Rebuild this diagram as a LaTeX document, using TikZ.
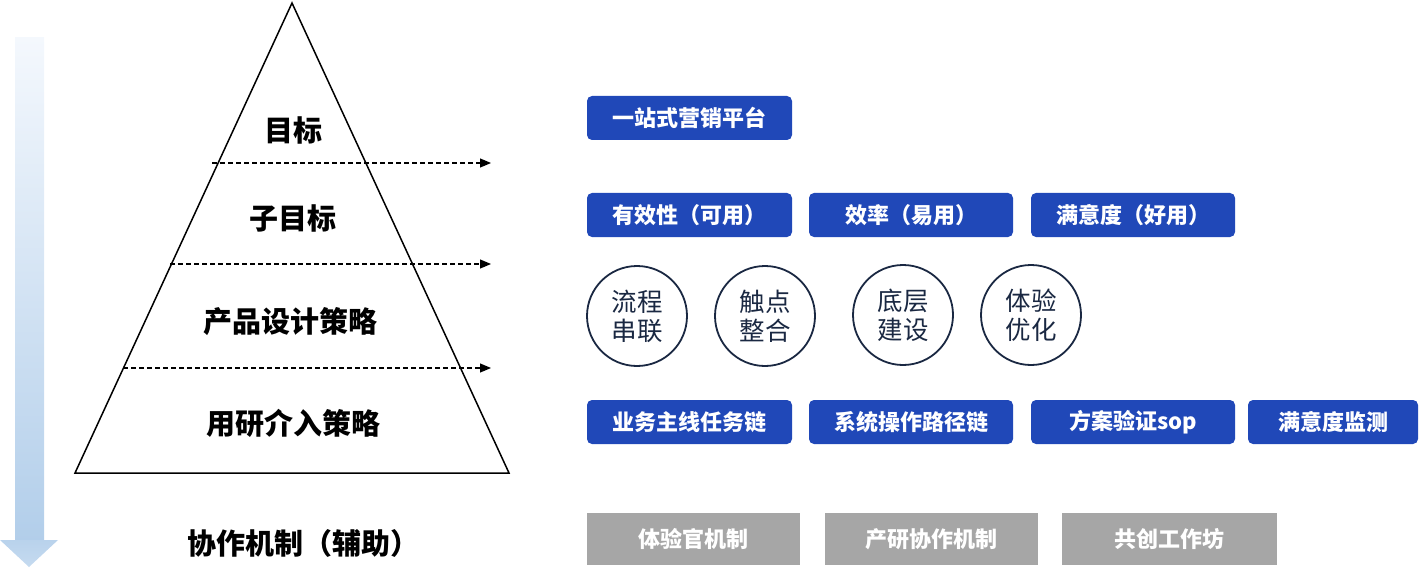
\documentclass[tikz,border=0pt]{standalone}
\usepackage{fontspec}
\newfontfamily\cjk{Noto Sans CJK SC}
\usetikzlibrary{arrows.meta,shadings}
\definecolor{boxblue}{RGB}{32,72,184}
\definecolor{boxgray}{RGB}{166,166,166}
\definecolor{navy}{RGB}{26,40,66}
\definecolor{arrtop}{RGB}{244,248,253}
\definecolor{arrbot}{RGB}{178,206,234}
\tikzset{
  lvl/.style={font=\cjk\bfseries\fontsize{29bp}{33bp}\selectfont, text=black, inner sep=0},
  bluebox/.style={fill=boxblue, rounded corners=5bp, inner sep=0, text=white,
    font=\cjk\bfseries\fontsize{22bp}{26bp}\selectfont, minimum height=44bp},
  graybox/.style={fill=boxgray, inner sep=0, text=white,
    font=\cjk\bfseries\fontsize{22bp}{26bp}\selectfont, minimum height=52bp},
  circ/.style={circle, draw=navy, line width=1.8bp, minimum size=100bp, inner sep=0,
    text=navy, align=center, font=\cjk\fontsize{25.5bp}{29bp}\selectfont},
  dashconn/.style={dashed, line width=1.2bp, dash pattern=on 5bp off 3bp,
    -{Triangle[length=11bp,width=9bp,sep=0pt]}, shorten >=0pt}
}
\begin{document}
\begin{tikzpicture}[x=1bp,y=-1bp]
\useasboundingbox (0,0) rectangle (1419,577);
% gradient arrow
\shade[top color=arrtop, bottom color=arrbot] (15,38) rectangle (44,541);
\shade[top color=arrbot!90!arrtop, bottom color=arrbot!70!arrtop] (0,540) -- (58,540) -- (29,567) -- cycle;
% pyramid
\draw[line width=1.5bp, line join=miter] (292,3) -- (509,473) -- (75,473) -- cycle;
% dashed connectors
\coordinate (d1s) at (212,163); \coordinate (d1e) at (491,163);
\coordinate (d2s) at (170,264); \coordinate (d2e) at (491,264);
\coordinate (d3s) at (123,368); \coordinate (d3e) at (491,368);
\draw[dashconn] (d1s) -- (d1e);
\draw[dashconn] (d2s) -- (d2e);
\draw[dashconn] (d3s) -- (d3e);
% level labels
\node[lvl] (l1) at (293,130) {目标};
\node[lvl] (l2) at (293,218) {子目标};
\node[lvl] (l3) at (290,322) {产品设计策略};
\node[lvl] (l4) at (293,423) {用研介入策略};
\node[lvl] (l5) at (303,543) {协作机制（辅助）};
% row 1
\node[bluebox, minimum width=205bp] (b1) at (689.5,118) {一站式营销平台};
% row 2
\node[bluebox, minimum width=205bp] (b21) at (689.5,215) {有效性（可用）};
\node[bluebox, minimum width=204bp] (b22) at (911,215) {效率（易用）};
\node[bluebox, minimum width=204bp] (b23) at (1133,215) {满意度（好用）};
% row 3 circles
\node[circ] (c1) at (637,316) {流程\\串联};
\node[circ] (c2) at (765,316) {触点\\整合};
\node[circ] (c3) at (903,315) {底层\\建设};
\node[circ] (c4) at (1031,315) {体验\\优化};
% row 4
\node[bluebox, minimum width=205bp] (b41) at (689.5,422) {业务主线任务链};
\node[bluebox, minimum width=204bp] (b42) at (911,422) {系统操作路径链};
\node[bluebox, minimum width=204bp] (b43) at (1133,422) {方案验证sop};
\node[bluebox, minimum width=170bp] (b44) at (1333,422) {满意度监测};
% gray row
\node[graybox, minimum width=213bp] (g1) at (693.5,539) {体验官机制};
\node[graybox, minimum width=213bp] (g2) at (931.5,539) {产研协作机制};
\node[graybox, minimum width=215bp] (g3) at (1169.5,539) {共创工作坊};
\end{tikzpicture}
\end{document}
